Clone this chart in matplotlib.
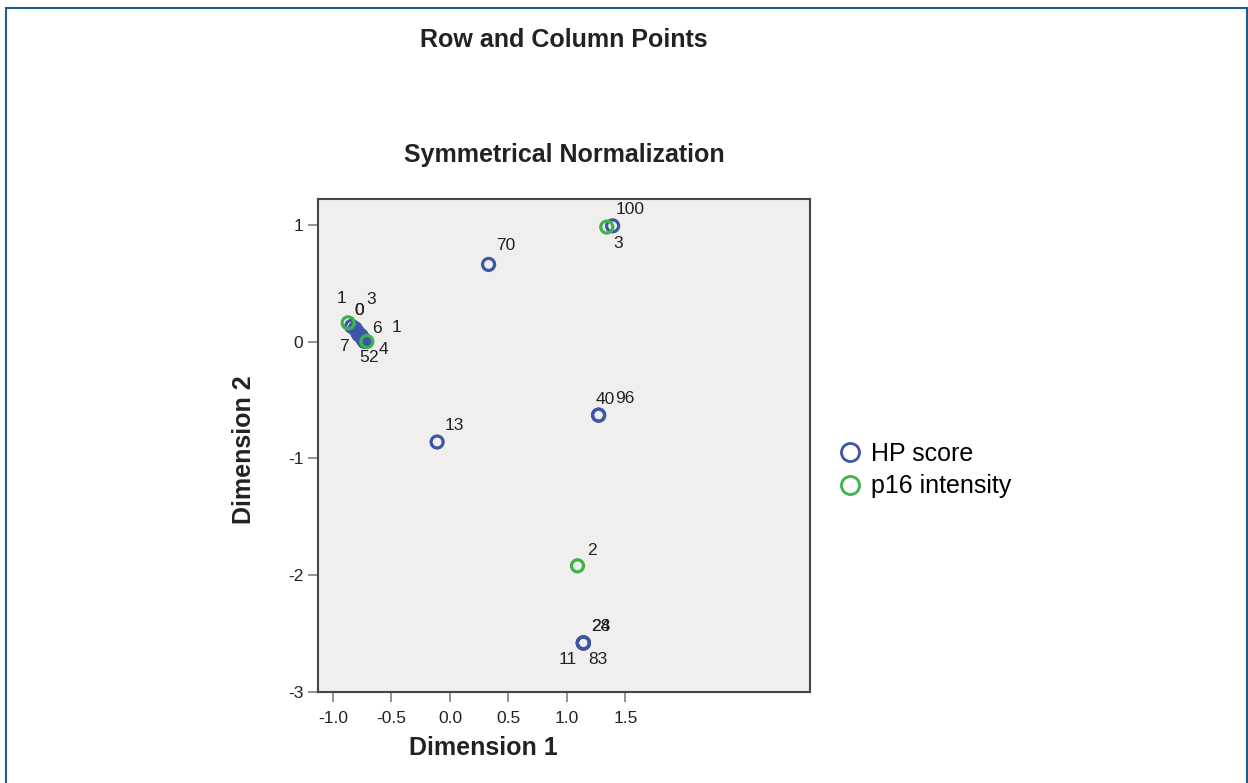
import matplotlib
matplotlib.use("Agg")
import matplotlib.pyplot as plt
from matplotlib.lines import Line2D
from matplotlib.patches import Rectangle

plt.rcParams['font.family'] = ['Liberation Sans', 'DejaVu Sans']
plt.rcParams['axes.unicode_minus'] = False

# row points (HP score)
hp_labels = ['0', '1', '2', '3', '4', '5', '6', '7', '11', '13', '24', '28',
             '40', '70', '83', '96', '100']
hp_dim1 = [-0.81, -0.76, -0.74, -0.79, -0.73, -0.75, -0.78, -0.84, 1.14, -0.11,
           1.14, 1.14, 1.27, 0.33, 1.14, 1.27, 1.39]
hp_dim2 = [0.11, 0.05, 0.02, 0.08, 0.00, 0.03, 0.06, 0.13, -2.58, -0.86,
           -2.58, -2.58, -0.63, 0.66, -2.58, -0.63, 0.99]

# column points (p16 intensity)
p16_labels = ['0', '1', '2', '3']
p16_dim1 = [-0.71, -0.87, 1.09, 1.34]
p16_dim2 = [0.00, 0.16, -1.92, 0.98]

# label offsets in pixels (dx, dy)
hp_offsets = [(4, 18), (35, 8), (10, -18), (14, 33), (19, -8), (2, -19),
              (18, 6), (-8, -20), (-16, -17), (17, 16), (17, 16), (17, 16),
              (7, 16), (17, 19), (15, -17), (26, 17), (18, 16)]
p16_offsets = [(-8, 31), (-7, 24), (14, 15), (11, -16)]

blue = '#3d56a8'
green = '#3db44a'

fig = plt.figure(figsize=(12.48, 7.83), dpi=100)
ax = fig.add_axes([318/1248, 1 - 692/783, (810-318)/1248, (692-199)/783])
ax.set_facecolor('#f0efed')

ax.scatter(hp_dim1, hp_dim2, s=75, facecolors='none', edgecolors=blue, linewidths=2.3, zorder=3)
ax.scatter(p16_dim1, p16_dim2, s=75, facecolors='none', edgecolors=green, linewidths=2.3, zorder=4)

for lab, x, y, off in zip(hp_labels, hp_dim1, hp_dim2, hp_offsets):
    ax.annotate(lab, (x, y), xytext=off, textcoords='offset pixels',
                ha='center', va='center', fontsize=12.5, color='#222222', zorder=5)
for lab, x, y, off in zip(p16_labels, p16_dim1, p16_dim2, p16_offsets):
    ax.annotate(lab, (x, y), xytext=off, textcoords='offset pixels',
                ha='center', va='center', fontsize=12.5, color='#222222', zorder=5)

ax.set_xlim(-1.128, 3.077)
ax.set_ylim(-3.0, 1.22)
ax.set_xticks([-1.0, -0.5, 0.0, 0.5, 1.0, 1.5])
ax.set_xticklabels(['-1.0', '-0.5', '0.0', '0.5', '1.0', '1.5'])
ax.set_yticks([-3, -2, -1, 0, 1])
ax.tick_params(axis='both', length=7.5, width=1.2, color='#808080',
               labelsize=12.5, labelcolor='#222222', pad=3)
ax.tick_params(axis='x', pad=6)
for s in ax.spines.values():
    s.set_color('#454545')
    s.set_linewidth(1.5)

# titles and axis labels
fig.text(564/1248, 1 - 40/783, 'Row and Column Points', ha='center', va='center',
         fontsize=18, fontweight='bold', color='#222222')
fig.text(564/1248, 1 - 155/783, 'Symmetrical Normalization', ha='center', va='center',
         fontsize=18, fontweight='bold', color='#222222')
fig.text(483/1248, 1 - 748/783, 'Dimension 1', ha='center', va='center',
         fontsize=18, fontweight='bold', color='#222222')
fig.text(244/1248, 1 - 450/783, 'Dimension 2', ha='center', va='center', rotation=90,
         fontsize=18, fontweight='bold', color='#222222')

# legend
handles = [Line2D([], [], ls='none', marker='o', markersize=13, markerfacecolor='none',
                  markeredgecolor=blue, markeredgewidth=2),
           Line2D([], [], ls='none', marker='o', markersize=13, markerfacecolor='none',
                  markeredgecolor=green, markeredgewidth=2)]
fig.legend(handles, ['HP score', 'p16 intensity'], loc='center left',
           bbox_to_anchor=(822/1248, 1 - 470/783), frameon=False, fontsize=18,
           handletextpad=0.25, labelspacing=0.35, handlelength=1.2, borderpad=0)

# outer frame
fig.patches.append(Rectangle((6/1248, -0.05), (1247-6)/1248, 1 - 8/783 + 0.05,
                             transform=fig.transFigure, fill=False,
                             edgecolor='#1d5d8c', linewidth=1.5))

fig.savefig('out.png', dpi=100)
